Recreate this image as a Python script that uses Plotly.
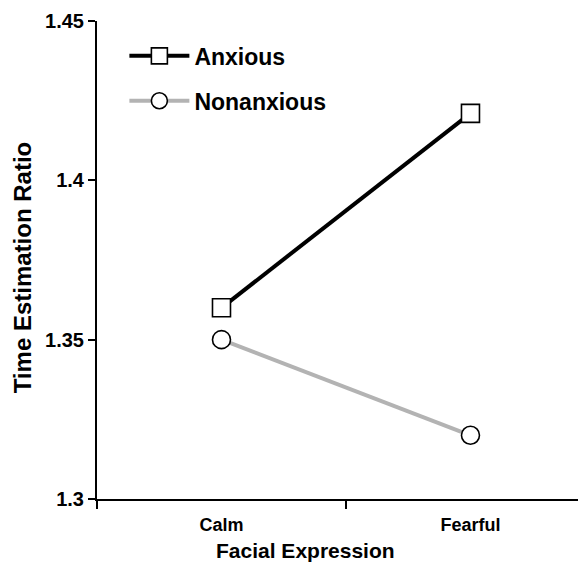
import plotly.graph_objects as go

categories = ["Calm", "Fearful"]
anxious = [1.36, 1.421]
nonanxious = [1.35, 1.32]
y_ticks = [1.3, 1.35, 1.4, 1.45]
y_tick_labels = ["1.3", "1.35", "1.4", "1.45"]
x_title = "Facial Expression"
y_title = "Time Estimation Ratio"

FONT = "Liberation Sans, Arial, sans-serif"

fig = go.Figure()
fig.add_trace(go.Scatter(
    x=categories, y=anxious, name="Anxious", mode="lines+markers",
    legendgroup="a",
    line=dict(color="black", width=4),
    marker=dict(symbol="square", size=18, color="white",
                line=dict(color="black", width=1.6)),
))
fig.add_trace(go.Scatter(
    x=categories, y=nonanxious, name="Nonanxious", mode="lines+markers",
    legendgroup="b",
    line=dict(color="#b3b3b3", width=4),
    marker=dict(symbol="circle", size=18, color="white",
                line=dict(color="black", width=1.6)),
))

fig.add_annotation(text=x_title, xref="paper", yref="paper",
                   x=0.427, y=-0.107, xanchor="center", yanchor="middle",
                   showarrow=False,
                   font=dict(size=21, family=FONT, weight="bold", color="black"))
fig.add_annotation(text=y_title, xref="paper", yref="paper",
                   x=-0.153, y=0.485, xanchor="center", yanchor="middle",
                   textangle=-90, showarrow=False,
                   font=dict(size=24, family=FONT, weight="bold", color="black"))

fig.update_layout(
    width=578, height=557,
    margin=dict(l=89, r=0, t=13, b=66, pad=0),
    paper_bgcolor="white", plot_bgcolor="white",
    font=dict(family=FONT, color="black"),
    showlegend=True,
    legend=dict(x=0.056, y=0.972, xanchor="left", yanchor="top",
                bgcolor="rgba(0,0,0,0)",
                font=dict(size=23, family=FONT, weight="bold"),
                traceorder="grouped", tracegroupgap=12,
                itemwidth=60),
    xaxis=dict(
        type="category", range=[-0.5, 1.464],
        showline=True, linecolor="black", linewidth=2,
        ticks="outside", tickson="boundaries", ticklen=8, tickwidth=2,
        tickcolor="black", ticklabelstandoff=8,
        tickfont=dict(size=18, family=FONT, weight="bold"),
        showgrid=False, zeroline=False,
    ),
    yaxis=dict(
        range=[1.3, 1.45], tickvals=y_ticks, ticktext=y_tick_labels,
        showline=True, linecolor="black", linewidth=2,
        ticks="outside", ticklen=7, tickwidth=2, tickcolor="black",
        tickfont=dict(size=20, family=FONT, weight="bold"),
        showgrid=False, zeroline=False,
    ),
)

fig.write_html("out.html")
